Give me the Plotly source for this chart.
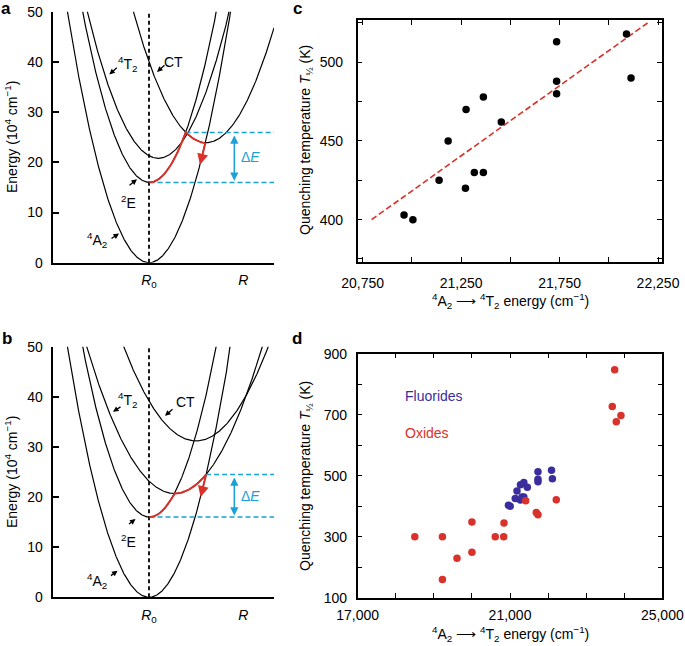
import numpy as np
import plotly.graph_objects as go

W, H = 685, 646

# ---------------- data ----------------
# Panels a, b: configurational-coordinate parabolas  E = E_min + k (R - R_min)^2
# order: 4A2, 2E, 4T2, CT   (R in arbitrary units, R0 = 0; E in 10^4 cm^-1)
a_R_min = [0.0, 0.05, 0.93, 5.7]
a_E_min = [0.0, 16.0, 20.8, 23.9]
a_curv = [0.751, 0.76, 0.579, 0.495]
a_path = [1, 3, 0]          # red relaxation path: 2E -> CT -> 4A2
b_R_min = [0.0, 0.05, 2.55, 4.7]
b_E_min = [0.0, 16.0, 20.7, 31.2]
b_curv = [0.751, 0.76, 0.38, 0.36]
b_path = [1, 2, 0]          # red relaxation path: 2E -> 4T2 -> 4A2
arrow_end_E = [19.5, 20.0]  # energy at the tip of the red arrow (a, b)
E_ticks = [0, 10, 20, 30, 40, 50]
R_tick_vals = [0.0, 9.43]
R_tick_text = ["<i>R</i><sub>0</sub>", "<i>R</i>"]

# Panel c (fluorides)
fluoride_energy = [20960, 21005, 21138, 21184, 21272, 21275, 21317, 21363, 21363,
                   21454, 21735, 21735, 21735, 22090, 22113]
fluoride_T = [403, 400, 425, 450, 420, 470, 430, 430, 478, 462, 513, 488, 480, 518, 490]
fit_energy = [20795, 22197]
fit_T = [400, 525]

# Panel d (oxides)
oxide_energy = [18500, 19225, 19225, 19608, 20000, 20000, 20613, 20834, 20842,
                21412, 21690, 21735, 22215, 23686, 23749, 23791, 23914]
oxide_T = [300, 300, 160, 229, 348, 249, 300, 300, 345, 418, 379, 372, 421,
           727, 847, 677, 697]

# ---------------- helpers ----------------
FONT = "Liberation Sans, Arial, Helvetica, sans-serif"
RED = "#d8322a"
CYAN = "#1ba1d6"
BLUE = "#3a2d9c"
R_RANGE = [-9.57, 12.5]


def parab(i, R, Rm, Em, k):
    return Em[i] + k[i] * (np.asarray(R) - Rm[i]) ** 2


def cross(i, j, Rm, Em, k, lo, hi):
    a = k[i] - k[j]
    b = -2 * (k[i] * Rm[i] - k[j] * Rm[j])
    c = k[i] * Rm[i] ** 2 - k[j] * Rm[j] ** 2 + Em[i] - Em[j]
    if abs(a) < 1e-12:
        roots = [-c / b]
    else:
        roots = np.roots([a, b, c])
    roots = [r.real for r in np.atleast_1d(roots) if abs(np.imag(r)) < 1e-9 and lo <= r.real <= hi]
    return roots[0]


def xdom(p0, p1):
    return [p0 / W, p1 / W]


def ydom(top, bot):
    return [1 - bot / H, 1 - top / H]


fig = go.Figure()
annotations = []

panels = [
    dict(Rm=a_R_min, Em=a_E_min, k=a_curv, path=a_path, xa="x", ya="y", tip=arrow_end_E[0]),
    dict(Rm=b_R_min, Em=b_E_min, k=b_curv, path=b_path, xa="x2", ya="y2", tip=arrow_end_E[1]),
]

R_plot = np.linspace(R_RANGE[0], R_RANGE[1], 600)
for p in panels:
    Rm, Em, k = p["Rm"], p["Em"], p["k"]
    for i in range(4):
        fig.add_trace(go.Scatter(x=R_plot, y=parab(i, R_plot, Rm, Em, k), mode="lines",
                                 line=dict(color="black", width=1.2), xaxis=p["xa"], yaxis=p["ya"],
                                 hoverinfo="skip", showlegend=False))
    # dashed line at R0
    fig.add_trace(go.Scatter(x=[R_tick_vals[0], R_tick_vals[0]], y=[E_ticks[0], E_ticks[-1]], mode="lines",
                             line=dict(color="black", width=1.8, dash="4px,3px"),
                             xaxis=p["xa"], yaxis=p["ya"], hoverinfo="skip", showlegend=False))
    # red path
    path = p["path"]
    c1 = cross(path[0], path[1], Rm, Em, k, 0.1, 9)
    c2 = cross(path[1], path[2], Rm, Em, k, c1, 9)
    x_end = Rm[path[2]] + np.sqrt((p["tip"] - Em[path[2]]) / k[path[2]])
    s1 = np.linspace(Rm[path[0]], c1, 60)
    s2 = np.linspace(c1, c2, 60)
    s3 = np.linspace(c2, x_end + 0.12, 30)
    px = np.concatenate([s1, s2, s3])
    py = np.concatenate([parab(path[0], s1, Rm, Em, k), parab(path[1], s2, Rm, Em, k),
                         parab(path[2], s3, Rm, Em, k)])
    # cyan dashed levels
    top_i = int(np.argmax(py))
    E_top, R_top = py[top_i], px[top_i]
    E_bot = Em[path[0]]
    fig.add_trace(go.Scatter(x=[R_top, R_RANGE[1]], y=[E_top, E_top], mode="lines",
                             line=dict(color=CYAN, width=1.5, dash="5px,3px"),
                             xaxis=p["xa"], yaxis=p["ya"], hoverinfo="skip", showlegend=False))
    fig.add_trace(go.Scatter(x=[Rm[path[0]], R_RANGE[1]], y=[E_bot, E_bot], mode="lines",
                             line=dict(color=CYAN, width=1.5, dash="5px,3px"),
                             xaxis=p["xa"], yaxis=p["ya"], hoverinfo="skip", showlegend=False))
    fig.add_trace(go.Scatter(x=px, y=py, mode="lines", line=dict(color=RED, width=2),
                             xaxis=p["xa"], yaxis=p["ya"], hoverinfo="skip", showlegend=False))
    # red arrow head
    annotations.append(dict(x=x_end, y=p["tip"], ax=x_end + 0.2, ay=float(parab(path[2], x_end + 0.2, Rm, Em, k)),
                            xref=p["xa"], yref=p["ya"], axref=p["xa"], ayref=p["ya"], text="",
                            showarrow=True, arrowhead=2, arrowsize=1.1, arrowwidth=2, arrowcolor=RED))
    # Delta E double arrow
    annotations.append(dict(x=8.53, y=E_bot + 0.3, ax=8.53, ay=E_top - 0.3,
                            xref=p["xa"], yref=p["ya"], axref=p["xa"], ayref=p["ya"], text="",
                            showarrow=True, arrowhead=2, startarrowhead=2, arrowside="end+start",
                            arrowsize=1.1, arrowwidth=1.5, arrowcolor=CYAN))
    annotations.append(dict(x=9.0, y=(E_top + E_bot) / 2, xref=p["xa"], yref=p["ya"],
                            text="Δ<i>E</i>", showarrow=False, xanchor="left", yanchor="middle",
                            font=dict(size=14, color=CYAN, family=FONT)))

# state labels with small arrows  (text_x, text_y, head_x, head_y, ax_px, ay_px)
label_specs = {
    "x": [
        ("<sup>4</sup>T<sub>2</sub>", -2.2, 39.6, -3.97, 37.5, 9, -8),
        ("CT", 2.45, 40.0, 0.8, 38.0, 9, -8),
        ("<sup>2</sup>E", -2.1, 12.0, -1.2, 16.6, -9, 7),
        ("<sup>4</sup>A<sub>2</sub>", -5.2, 4.6, -3.0, 5.8, -9, 6),
    ],
    "x2": [
        ("<sup>4</sup>T<sub>2</sub>", -2.2, 39.4, -3.6, 37.0, 9, -6),
        ("CT", 3.6, 39.0, 1.6, 36.2, 9, -8),
        ("<sup>2</sup>E", -2.1, 11.3, -1.35, 15.6, -8, 6),
        ("<sup>4</sup>A<sub>2</sub>", -5.2, 3.2, -3.15, 5.3, -8, 6),
    ],
}
for xa, ya in [("x", "y"), ("x2", "y2")]:
    for txt, tx, ty, hx, hy, axp, ayp in label_specs[xa]:
        annotations.append(dict(x=tx, y=ty, xref=xa, yref=ya, text=txt, showarrow=False,
                                xanchor="center", yanchor="middle",
                                font=dict(size=14, color="black", family=FONT)))
        annotations.append(dict(x=hx, y=hy, xref=xa, yref=ya, text="", showarrow=True,
                                ax=axp, ay=ayp, arrowhead=2, arrowsize=0.85, arrowwidth=1.3,
                                arrowcolor="black"))

# ---------- panel c ----------
fig.add_trace(go.Scatter(x=fit_energy, y=fit_T, mode="lines",
                         line=dict(color=RED, width=1.6, dash="6px,3px"),
                         xaxis="x3", yaxis="y3", hoverinfo="skip", showlegend=False))
fig.add_trace(go.Scatter(x=fluoride_energy, y=fluoride_T, mode="markers",
                         marker=dict(color="black", size=7.5),
                         xaxis="x3", yaxis="y3", showlegend=False))

# ---------- panel d ----------
fig.add_trace(go.Scatter(x=fluoride_energy, y=fluoride_T, mode="markers",
                         marker=dict(color=BLUE, size=7.5),
                         xaxis="x4", yaxis="y4", showlegend=False))
fig.add_trace(go.Scatter(x=oxide_energy, y=oxide_T, mode="markers",
                         marker=dict(color=RED, size=7.5),
                         xaxis="x4", yaxis="y4", showlegend=False))
annotations.append(dict(x=18200, y=760, xref="x4", yref="y4", text="Fluorides", showarrow=False,
                        xanchor="left", yanchor="middle", font=dict(size=14, color=BLUE, family=FONT)))
annotations.append(dict(x=18200, y=640, xref="x4", yref="y4", text="Oxides", showarrow=False,
                        xanchor="left", yanchor="middle", font=dict(size=14, color=RED, family=FONT)))

# ---------- titles / panel letters (paper coords) ----------
def paper(pxx, pyy):
    return pxx / W, 1 - pyy / H

ylab_E = "Energy (10<sup>4</sup> cm<sup>−1</sup>)"
ylab_T = "Quenching temperature <i>T</i><sub>½</sub> (K)"
xlab = "<sup>4</sup>A<sub>2</sub> ⟶ <sup>4</sup>T<sub>2</sub> energy (cm<sup>−1</sup>)"
for txt, (xx, yy), ang in [
    (ylab_E, paper(11, 137), -90), (ylab_E, paper(11, 472), -90),
    (ylab_T, paper(306, 140), -90), (ylab_T, paper(306, 476), -90),
    (xlab, paper(510, 301), 0), (xlab, paper(510, 634), 0),
]:
    annotations.append(dict(x=xx, y=yy, xref="paper", yref="paper", text=txt, showarrow=False,
                            xanchor="center", yanchor="middle",
                            textangle=ang, font=dict(size=14, color="black", family=FONT)))
for txt, (xx, yy) in [("a", paper(6, 8)), ("b", paper(7, 338)), ("c", paper(297, 8)), ("d", paper(297, 338))]:
    annotations.append(dict(x=xx, y=yy, xref="paper", yref="paper", text=f"<b>{txt}</b>",
                            xanchor="center", yanchor="middle",
                            showarrow=False, font=dict(size=17, color="black", family=FONT)))

# ---------- axes ----------
tickfont = dict(size=14, color="black", family=FONT)
common_ab_x = dict(range=R_RANGE, showline=True, linecolor="black", linewidth=1.5, showgrid=False,
                   zeroline=False, ticks="", tickmode="array", tickvals=R_tick_vals, ticktext=R_tick_text,
                   tickfont=tickfont, ticklabelstandoff=4, automargin=False)
common_ab_y = dict(range=[E_ticks[0], E_ticks[-1]], showline=True, linecolor="black", linewidth=1.5,
                   showgrid=False, zeroline=False, ticks="inside", ticklen=6, tickwidth=1.5,
                   tickcolor="black", tickmode="array", tickvals=E_ticks, tickfont=tickfont,
                   ticklabelstandoff=6, automargin=False)
box = dict(showline=True, linecolor="black", linewidth=1.5, mirror="ticks", showgrid=False,
           zeroline=False, ticks="inside", ticklen=5, tickwidth=1.2, tickcolor="black",
           tickfont=tickfont, tickmode="linear", automargin=False)

fig.update_layout(
    width=W, height=H, margin=dict(l=0, r=0, t=0, b=0, pad=0, autoexpand=False),
    paper_bgcolor="white", plot_bgcolor="white", showlegend=False,
    font=dict(family=FONT, color="black", size=14),
    xaxis=dict(domain=xdom(53.3, 274), anchor="y", **common_ab_x),
    yaxis=dict(domain=ydom(11.7, 262.7), anchor="x", **common_ab_y),
    xaxis2=dict(domain=xdom(53.3, 274), anchor="y2", **common_ab_x),
    yaxis2=dict(domain=ydom(346.7, 597.3), anchor="x2", **common_ab_y),
    xaxis3=dict(domain=xdom(357.7, 661.5), anchor="y3", range=[20724.6, 22267.8],
                tick0=20750, dtick=500, tickformat=",d", ticklabelstandoff=8,
                minor=dict(tick0=20750, dtick=250, ticks="inside", ticklen=5, tickcolor="black", tickwidth=1.2),
                **box),
    yaxis3=dict(domain=ydom(20, 261.5), anchor="x3", range=[373.4, 526.9],
                tick0=400, dtick=50, ticklabelstandoff=10,
                minor=dict(tick0=375, dtick=25, ticks="inside", ticklen=5, tickcolor="black", tickwidth=1.2),
                **box),
    xaxis4=dict(domain=xdom(357.7, 662.3), anchor="y4", range=[17000, 25000],
                tick0=17000, dtick=4000, tickformat=",d", ticklabelstandoff=4,
                minor=dict(tick0=17000, dtick=1000, ticks="inside", ticklen=5, tickcolor="black", tickwidth=1.2),
                **box),
    yaxis4=dict(domain=ydom(353.7, 597.7), anchor="x4", range=[100, 900],
                tick0=100, dtick=200, ticklabelstandoff=6,
                minor=dict(tick0=100, dtick=100, ticks="inside", ticklen=5, tickcolor="black", tickwidth=1.2),
                **box),
    annotations=annotations,
)

fig.write_html("out.html", config={"displayModeBar": False},
               post_script="document.body.style.margin='0';document.body.style.overflow='hidden';")
